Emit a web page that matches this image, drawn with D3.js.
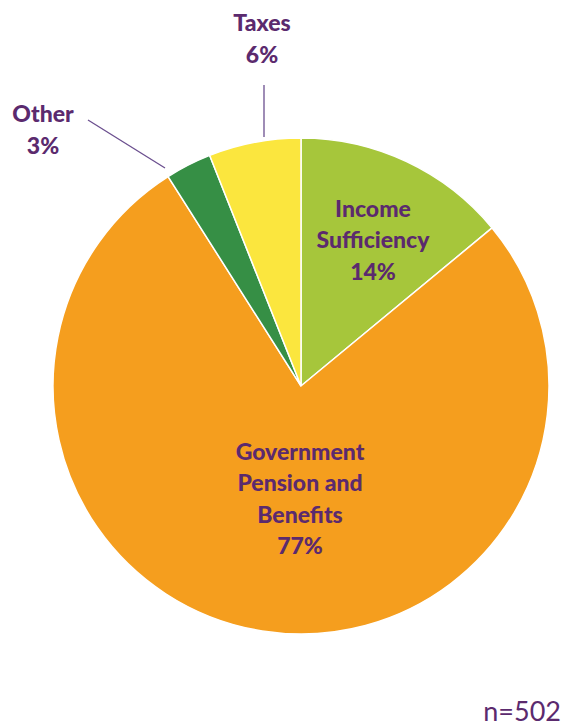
<!DOCTYPE html>
<html>
<head>
<meta charset="utf-8">
<script src="https://cdn.jsdelivr.net/npm/d3@7"></script>
<style>
  body { margin: 0; background: #fff; }
  svg text { font-family: Lato, "Open Sans", sans-serif; fill: #5b2a6e; }
</style>
</head>
<body>
<svg id="chart" width="564" height="726"></svg>
<script>
// data
var categories = ["Income Sufficiency", "Government Pension and Benefits", "Other", "Taxes"];
var values = [14, 77, 3, 6];
var colors = ["#a6c63b", "#f59e1e", "#368f45", "#fbe63e"];
var labelLines = [["Income", "Sufficiency", "14%"], ["Government", "Pension and", "Benefits", "77%"], ["Other", "3%"], ["Taxes", "6%"]];
var sampleNote = "n=502";

var CX = 301, CY = 386, R = 248;
var FONT_SIZE = 23;
var LINE_H = 31.5;

var svg = d3.select("#chart");

var pie = d3.pie().sort(null).value(function(d){ return d; });
var arc = d3.arc().innerRadius(0).outerRadius(R);
var arcs = pie(values);

var g = svg.append("g").attr("transform", "translate(" + CX + "," + CY + ")");

g.selectAll("path")
    .data(arcs)
    .enter().append("path")
    .attr("d", arc)
    .attr("fill", function(d, i){ return colors[i]; })
    .attr("stroke", "#fff")
    .attr("stroke-width", 1.5);

// label centres, relative to pie centre (small slices sit outside)
var labelPos = [[72, -146], [-1, 113], [-258, -256], [-39, -347]];

// leader lines for the outside labels
var leaders = [null, null, [[-213, -266], [-136, -218]], [[-37, -301], [-37, -249]]];
leaders.forEach(function(l){
    if(!l) return;
    g.append("line")
        .attr("x1", l[0][0]).attr("y1", l[0][1])
        .attr("x2", l[1][0]).attr("y2", l[1][1])
        .attr("stroke", "#6b4f8f")
        .attr("stroke-width", 1.3);
});

arcs.forEach(function(d, i){
    var p = labelPos[i];
    var lines = labelLines[i];
    var t = g.append("text")
        .attr("text-anchor", "middle")
        .attr("font-weight", 900)
        .attr("font-size", FONT_SIZE);
    var y0 = p[1] - (lines.length - 1) * LINE_H / 2;
    lines.forEach(function(s, k){
        t.append("tspan")
            .attr("x", p[0])
            .attr("y", y0 + k * LINE_H)
            .attr("dy", "0.35em")
            .text(s);
    });
});

svg.append("text")
    .attr("x", 561)
    .attr("y", 721)
    .attr("text-anchor", "end")
    .attr("font-size", 27)
    .text(sampleNote);
</script>
</body>
</html>
